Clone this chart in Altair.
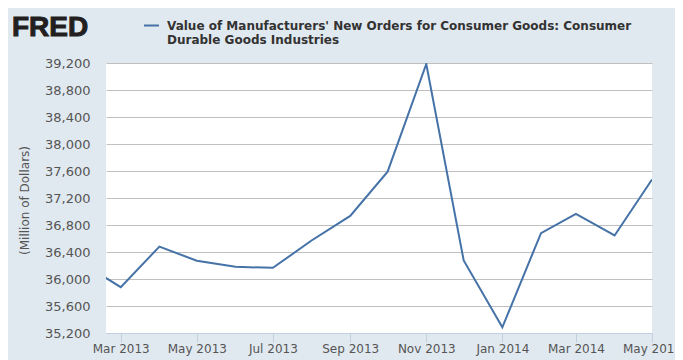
import json
import altair as alt
import pandas as pd

# ---- data ----
months = ["2013-02-01T00:00:00", "2013-03-01T00:00:00", "2013-04-01T00:00:00",
          "2013-05-01T00:00:00", "2013-06-01T00:00:00", "2013-07-01T00:00:00",
          "2013-08-01T00:00:00", "2013-09-01T00:00:00", "2013-10-01T00:00:00",
          "2013-11-01T00:00:00", "2013-12-01T00:00:00", "2014-01-01T00:00:00",
          "2014-02-01T00:00:00", "2014-03-01T00:00:00", "2014-04-01T00:00:00",
          "2014-05-01T00:00:00"]
values = [36200, 35880, 36480, 36270, 36180, 36165, 36570, 36935,
          37590, 39185, 36275, 35285, 36680, 36965, 36645, 37475]

series_name = "Value of Manufacturers' New Orders for Consumer Goods: Consumer Durable Goods Industries"
legend_lines = ["Value of Manufacturers' New Orders for Consumer Goods: Consumer",
                "Durable Goods Industries"]
y_ticks = [35200, 35600, 36000, 36400, 36800, 37200, 37600, 38000, 38400, 38800, 39200]
x_tick_months = [(2013, 3), (2013, 5), (2013, 7), (2013, 9), (2013, 11),
                 (2014, 1), (2014, 3), (2014, 5)]
y_title = "(Million of Dollars)"
logo_text = ["FRED"]

df = pd.DataFrame({"date": months, "value": values, "series": series_name})
logo_df = pd.DataFrame({"logo": logo_text})

LABEL_FONT = "DejaVu Sans"
LABEL_COLOR = "#555555"

x_axis = alt.Axis(
    values=[alt.DateTime(year=y, month=m, date=1) for y, m in x_tick_months],
    format="%b %Y", title=None, grid=False,
    ticks=True, tickSize=9, tickColor="#c0d0e0",
    domain=True, domainColor="#c0d0e0",
    labelPadding=1, labelFont=LABEL_FONT, labelFontSize=12, labelColor=LABEL_COLOR,
    labelFlush=False, labelOverlap=False,
)

y_axis = alt.Axis(
    values=y_ticks, format=",d", title=y_title,
    titleAngle=270, titleX=-82, titleY=137, titleAlign="center", titleBaseline="middle",
    titleFont=LABEL_FONT, titleFontSize=12, titleFontWeight="normal", titleColor=LABEL_COLOR,
    ticks=True, tickSize=16, tickOpacity=0, domain=False, labelPadding=0,
    grid=True, gridColor="#c0c0c0", gridWidth=1,
    labelFont=LABEL_FONT, labelFontSize=13, labelColor=LABEL_COLOR,
)

legend = alt.Legend(
    title=None, orient="none", legendX=37, legendY=-46, direction="vertical",
    symbolType="stroke", symbolStrokeWidth=2, symbolSize=225,
    labelExpr=json.dumps(legend_lines), labelFont="DejaVu Sans",
    labelFontWeight="bold", labelFontSize=12, labelColor="#333333",
    labelOffset=7, labelLimit=0, padding=0,
)

line = alt.Chart(df).mark_line(clip=True, strokeWidth=2).encode(
    x=alt.X("date:T",
            scale=alt.Scale(domain=[alt.DateTime(year=2013, month=2, date=17, hours=4),
                                    alt.DateTime(year=2014, month=5, date=1)]),
            axis=x_axis),
    y=alt.Y("value:Q", scale=alt.Scale(domain=[35200, 39200], nice=False, zero=False),
            axis=y_axis),
    color=alt.Color("series:N",
                    scale=alt.Scale(domain=[series_name], range=["#4572a7"]),
                    legend=legend),
)

logo = alt.Chart(logo_df).mark_text(
    align="left", baseline="alphabetic", font="Liberation Sans",
    fontSize=28, fontWeight="bold", color="#231f20",
    stroke="#231f20", strokeWidth=1,
).encode(
    x=alt.value(-94), y=alt.value(-27), text=alt.Text("logo:N"),
)

chart = alt.layer(line, logo).properties(
    width=546, height=270,
    autosize=alt.AutoSizeParams(type="none"),
    padding={"left": 98, "top": 55, "right": 23, "bottom": 27},
    background="#e1e9f0",
).configure_view(strokeWidth=0, fill="white")

chart.save("out.html", embed_options={"renderer": "svg", "actions": False})
